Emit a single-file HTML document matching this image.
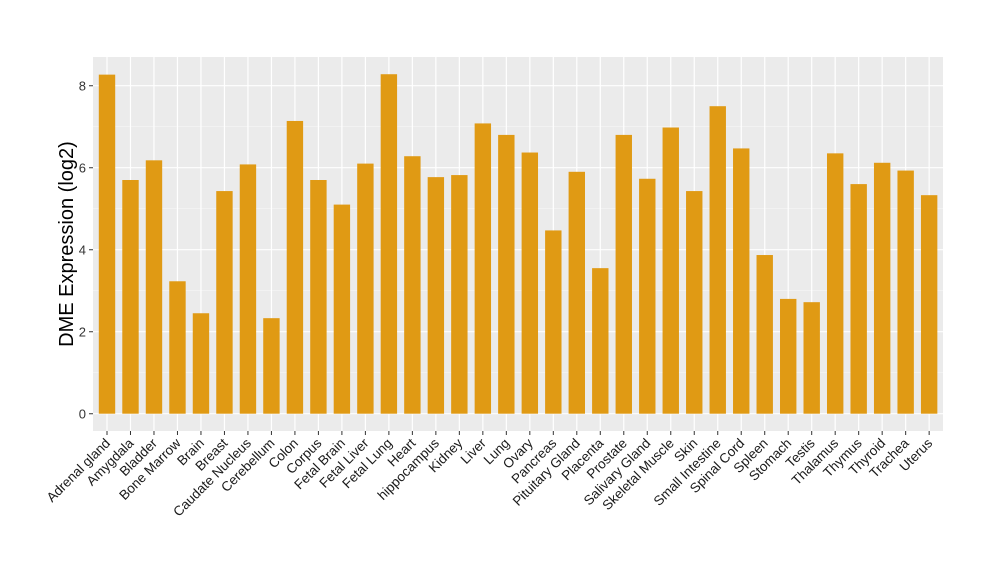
<!DOCTYPE html>
<html><head><style>body{margin:0;background:#fff}</style></head><body>
<svg width="1000" height="580" xmlns="http://www.w3.org/2000/svg" font-family="Liberation Sans, Arial, sans-serif">
<rect x="93" y="57" width="850" height="374" fill="#ebebeb"/>
<path d="M93 372.7H943M93 290.7H943M93 208.7H943M93 126.7H943" stroke="#f5f5f5" stroke-width="0.6"/>
<path d="M93 413.7H943M93 331.7H943M93 249.7H943M93 167.7H943M93 85.7H943" stroke="#fff" stroke-width="1.2"/>
<path d="M107 57V431M130.49 57V431M153.98 57V431M177.47 57V431M200.96 57V431M224.45 57V431M247.94 57V431M271.43 57V431M294.92 57V431M318.41 57V431M341.9 57V431M365.39 57V431M388.88 57V431M412.37 57V431M435.86 57V431M459.35 57V431M482.84 57V431M506.33 57V431M529.82 57V431M553.31 57V431M576.8 57V431M600.29 57V431M623.78 57V431M647.27 57V431M670.76 57V431M694.25 57V431M717.74 57V431M741.23 57V431M764.72 57V431M788.21 57V431M811.7 57V431M835.19 57V431M858.68 57V431M882.17 57V431M905.66 57V431M929.15 57V431" stroke="#fff" stroke-width="1.2"/>
<path d="M107 431v4M130.49 431v4M153.98 431v4M177.47 431v4M200.96 431v4M224.45 431v4M247.94 431v4M271.43 431v4M294.92 431v4M318.41 431v4M341.9 431v4M365.39 431v4M388.88 431v4M412.37 431v4M435.86 431v4M459.35 431v4M482.84 431v4M506.33 431v4M529.82 431v4M553.31 431v4M576.8 431v4M600.29 431v4M623.78 431v4M647.27 431v4M670.76 431v4M694.25 431v4M717.74 431v4M741.23 431v4M764.72 431v4M788.21 431v4M811.7 431v4M835.19 431v4M858.68 431v4M882.17 431v4M905.66 431v4M929.15 431v4M89 413.7h4M89 331.7h4M89 249.7h4M89 167.7h4M89 85.7h4" stroke="#333"/>
<g font-size="13" fill="#333" text-anchor="end">
<text x="86" y="418.7">0</text><text x="86" y="336.7">2</text><text x="86" y="254.7">4</text><text x="86" y="172.7">6</text><text x="86" y="90.7">8</text>
</g>
<g fill="#e09a14">
<rect x="98.8" y="74.63" width="16.4" height="339.07"/>
<rect x="122.29" y="180" width="16.4" height="233.7"/>
<rect x="145.78" y="160.32" width="16.4" height="253.38"/>
<rect x="169.27" y="281.27" width="16.4" height="132.43"/>
<rect x="192.76" y="313.25" width="16.4" height="100.45"/>
<rect x="216.25" y="191.07" width="16.4" height="222.63"/>
<rect x="239.74" y="164.42" width="16.4" height="249.28"/>
<rect x="263.23" y="318.17" width="16.4" height="95.53"/>
<rect x="286.72" y="120.96" width="16.4" height="292.74"/>
<rect x="310.21" y="180" width="16.4" height="233.7"/>
<rect x="333.7" y="204.6" width="16.4" height="209.1"/>
<rect x="357.19" y="163.6" width="16.4" height="250.1"/>
<rect x="380.68" y="74.22" width="16.4" height="339.48"/>
<rect x="404.17" y="156.22" width="16.4" height="257.48"/>
<rect x="427.66" y="177.13" width="16.4" height="236.57"/>
<rect x="451.15" y="175.08" width="16.4" height="238.62"/>
<rect x="474.64" y="123.42" width="16.4" height="290.28"/>
<rect x="498.13" y="134.9" width="16.4" height="278.8"/>
<rect x="521.62" y="152.53" width="16.4" height="261.17"/>
<rect x="545.11" y="230.43" width="16.4" height="183.27"/>
<rect x="568.6" y="171.8" width="16.4" height="241.9"/>
<rect x="592.09" y="268.15" width="16.4" height="145.55"/>
<rect x="615.58" y="134.9" width="16.4" height="278.8"/>
<rect x="639.07" y="178.77" width="16.4" height="234.93"/>
<rect x="662.56" y="127.52" width="16.4" height="286.18"/>
<rect x="686.05" y="191.07" width="16.4" height="222.63"/>
<rect x="709.54" y="106.2" width="16.4" height="307.5"/>
<rect x="733.03" y="148.43" width="16.4" height="265.27"/>
<rect x="756.52" y="255.03" width="16.4" height="158.67"/>
<rect x="780.01" y="298.9" width="16.4" height="114.8"/>
<rect x="803.5" y="302.18" width="16.4" height="111.52"/>
<rect x="826.99" y="153.35" width="16.4" height="260.35"/>
<rect x="850.48" y="184.1" width="16.4" height="229.6"/>
<rect x="873.97" y="162.78" width="16.4" height="250.92"/>
<rect x="897.46" y="170.57" width="16.4" height="243.13"/>
<rect x="920.95" y="195.17" width="16.4" height="218.53"/>
</g>
<g font-size="13.5" fill="#1a1a1a" text-anchor="end">
<text transform="translate(111,444) rotate(-45)">Adrenal gland</text>
<text transform="translate(134.49,444) rotate(-45)">Amygdala</text>
<text transform="translate(157.98,444) rotate(-45)">Bladder</text>
<text transform="translate(181.47,444) rotate(-45)">Bone Marrow</text>
<text transform="translate(204.96,444) rotate(-45)">Brain</text>
<text transform="translate(228.45,444) rotate(-45)">Breast</text>
<text transform="translate(251.94,444) rotate(-45)">Caudate Nucleus</text>
<text transform="translate(275.43,444) rotate(-45)">Cerebellum</text>
<text transform="translate(298.92,444) rotate(-45)">Colon</text>
<text transform="translate(322.41,444) rotate(-45)">Corpus</text>
<text transform="translate(345.9,444) rotate(-45)">Fetal Brain</text>
<text transform="translate(369.39,444) rotate(-45)">Fetal Liver</text>
<text transform="translate(392.88,444) rotate(-45)">Fetal Lung</text>
<text transform="translate(416.37,444) rotate(-45)">Heart</text>
<text transform="translate(439.86,444) rotate(-45)">hippocampus</text>
<text transform="translate(463.35,444) rotate(-45)">Kidney</text>
<text transform="translate(486.84,444) rotate(-45)">Liver</text>
<text transform="translate(510.33,444) rotate(-45)">Lung</text>
<text transform="translate(533.82,444) rotate(-45)">Ovary</text>
<text transform="translate(557.31,444) rotate(-45)">Pancreas</text>
<text transform="translate(580.8,444) rotate(-45)">Pituitary Gland</text>
<text transform="translate(604.29,444) rotate(-45)">Placenta</text>
<text transform="translate(627.78,444) rotate(-45)">Prostate</text>
<text transform="translate(651.27,444) rotate(-45)">Salivary Gland</text>
<text transform="translate(674.76,444) rotate(-45)">Skeletal Muscle</text>
<text transform="translate(698.25,444) rotate(-45)">Skin</text>
<text transform="translate(721.74,444) rotate(-45)">Small Intestine</text>
<text transform="translate(745.23,444) rotate(-45)">Spinal Cord</text>
<text transform="translate(768.72,444) rotate(-45)">Spleen</text>
<text transform="translate(792.21,444) rotate(-45)">Stomach</text>
<text transform="translate(815.7,444) rotate(-45)">Testis</text>
<text transform="translate(839.19,444) rotate(-45)">Thalamus</text>
<text transform="translate(862.68,444) rotate(-45)">Thymus</text>
<text transform="translate(886.17,444) rotate(-45)">Thyroid</text>
<text transform="translate(909.66,444) rotate(-45)">Trachea</text>
<text transform="translate(933.15,444) rotate(-45)">Uterus</text>
</g>
<text transform="translate(73,244) rotate(-90)" text-anchor="middle" font-size="20" fill="#000">DME Expression (log2)</text>
</svg>
</body></html>
